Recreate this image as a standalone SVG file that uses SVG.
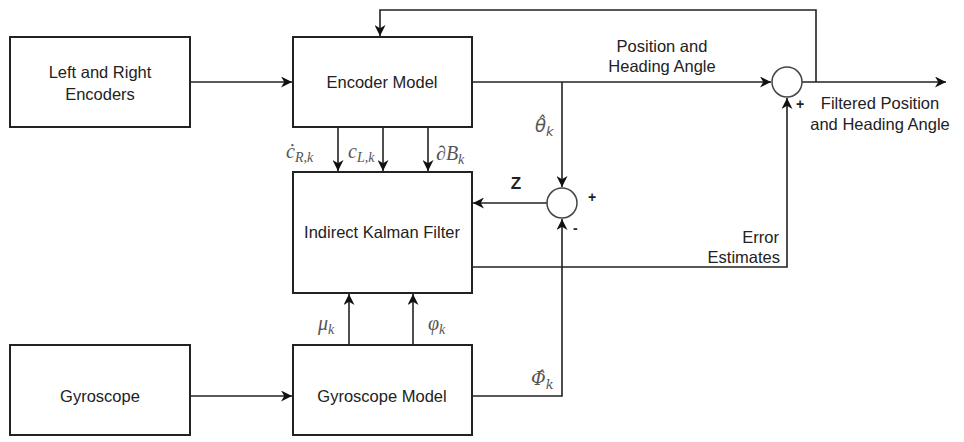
<svg xmlns="http://www.w3.org/2000/svg" width="964" height="442" viewBox="0 0 964 442">
<defs>
<marker id="ah" viewBox="0 0 10 10" refX="10" refY="5" markerWidth="11" markerHeight="11" markerUnits="userSpaceOnUse" orient="auto">
<path d="M0,0 L10,5 L0,10 L3,5 Z" fill="#111"/>
</marker>
<style>
.box{fill:#fff;stroke:#222;stroke-width:2}
.sum{fill:#fff;stroke:#444;stroke-width:1.5}
.ln{fill:none;stroke:#222;stroke-width:1.6}
.t{font-family:"Liberation Sans",Arial,sans-serif;font-size:16.5px;fill:#222;text-anchor:middle}
.e{font-family:"Liberation Sans",Arial,sans-serif;font-size:16.5px;fill:#222;text-anchor:end}
.m{font-family:"Liberation Serif","DejaVu Serif",serif;font-style:italic;font-size:20px;fill:#555}
.d{font-family:"DejaVu Serif",serif;font-style:italic;font-size:18px;fill:#555}
.n{font-family:"DejaVu Sans",sans-serif;font-style:oblique;font-size:18px;fill:#555}
.s{font-family:"Liberation Sans",Arial,sans-serif;font-size:14px;fill:#222;font-weight:bold}
</style>
</defs>
<rect width="964" height="442" fill="#fff"/>
<g id="connectors">
<path class="ln" d="M190,82 H292" marker-end="url(#ah)"/>
<path class="ln" d="M190,396 H292" marker-end="url(#ah)"/>
<path class="ln" d="M472,82 H771" marker-end="url(#ah)"/>
<path class="ln" d="M802,82 H946" marker-end="url(#ah)"/>
<path class="ln" d="M816,82 V10 H380 V36" marker-end="url(#ah)"/>
<path class="ln" d="M338,127 V171" marker-end="url(#ah)"/>
<path class="ln" d="M383,127 V171" marker-end="url(#ah)"/>
<path class="ln" d="M428,127 V171" marker-end="url(#ah)"/>
<path class="ln" d="M562,82 V187" marker-end="url(#ah)"/>
<path class="ln" d="M547,203 H473" marker-end="url(#ah)"/>
<path class="ln" d="M472,396 H562 V219" marker-end="url(#ah)"/>
<path class="ln" d="M472,267 H787 V98" marker-end="url(#ah)"/>
<path class="ln" d="M349,345 V294" marker-end="url(#ah)"/>
<path class="ln" d="M413,345 V294" marker-end="url(#ah)"/>
</g>
<g id="left-right-encoders">
<rect class="box" x="10" y="37" width="180" height="90"/>
<text class="t" x="100" y="78">Left and Right</text>
<text class="t" x="100" y="100">Encoders</text>
</g>
<g id="encoder-model">
<rect class="box" x="293" y="37" width="179" height="90"/>
<text class="t" x="382" y="88">Encoder Model</text>
</g>
<g id="kalman-filter">
<rect class="box" x="293" y="172" width="179" height="121"/>
<text class="t" x="382" y="238">Indirect Kalman Filter</text>
</g>
<g id="gyroscope">
<rect class="box" x="10" y="345" width="180" height="90"/>
<text class="t" x="100" y="402">Gyroscope</text>
</g>
<g id="gyroscope-model">
<rect class="box" x="293" y="345" width="179" height="90"/>
<text class="t" x="382" y="402">Gyroscope Model</text>
</g>
<g id="sum-error">
<circle class="sum" cx="562" cy="203" r="15"/>
<text class="s" x="588" y="202">+</text>
<text class="s" x="573" y="233">-</text>
</g>
<g id="sum-output">
<circle class="sum" cx="787" cy="82" r="15"/>
<text class="s" x="796" y="109">+</text>
</g>
<g id="labels">
<text class="t" x="662" y="52">Position and</text>
<text class="t" x="662" y="72">Heading Angle</text>
<text class="t" x="880" y="109">Filtered Position</text>
<text class="t" x="880" y="130">and Heading Angle</text>
<text class="e" x="779" y="243">Error</text>
<text class="e" x="780" y="263">Estimates</text>
<text class="t" x="516" y="189" style="font-size:17px;font-weight:bold">Z</text>
<text class="n" x="535" y="132">θ̂<tspan font-size="13" dy="4">k</tspan></text>
<text class="m" x="286" y="158">ċ<tspan font-size="14" dy="4">R,k</tspan></text>
<text class="m" x="348" y="158">c<tspan font-size="14" dy="4">L,k</tspan></text>
<text class="m" x="436" y="160">∂B<tspan font-size="14" dy="4">k</tspan></text>
<text class="m" x="318" y="330">μ<tspan font-size="14" dy="4">k</tspan></text>
<text class="m" x="428" y="330">φ<tspan font-size="14" dy="4">k</tspan></text>
<text class="d" x="531" y="385">Φ̂<tspan font-size="13" dy="4">k</tspan></text>
</g>
</svg>
